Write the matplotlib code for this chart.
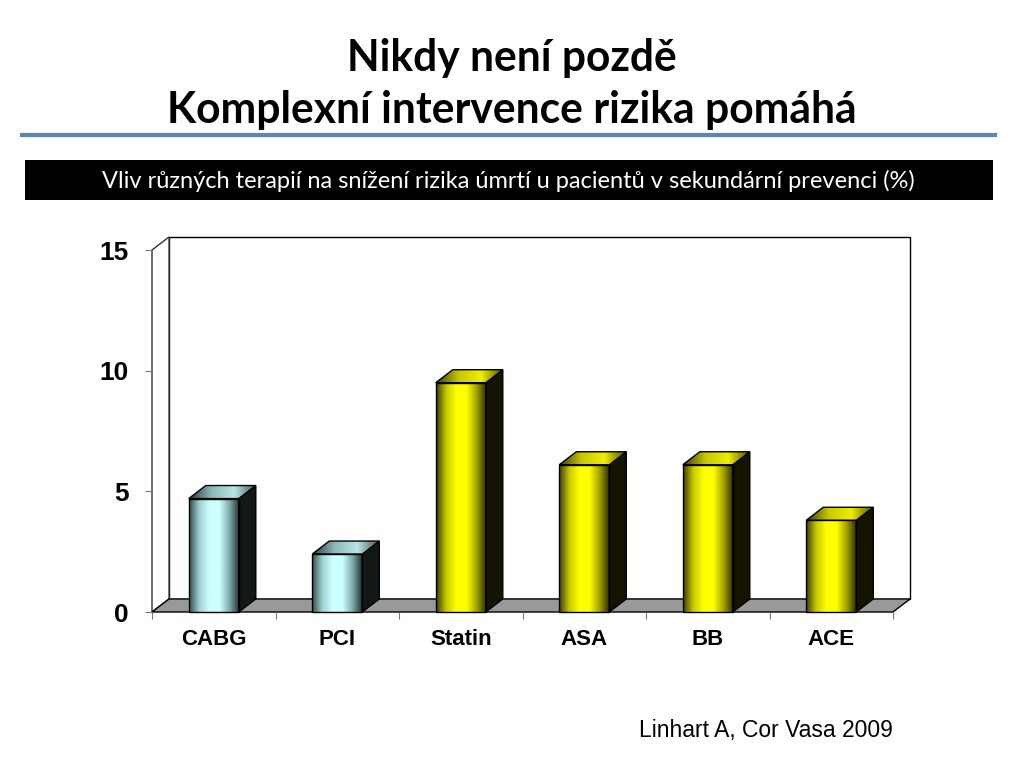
import numpy as np
import matplotlib
matplotlib.use("Agg")
import matplotlib.pyplot as plt
from matplotlib.patches import Polygon, Rectangle
from matplotlib.colors import LinearSegmentedColormap

categories = ['CABG', 'PCI', 'Statin', 'ASA', 'BB', 'ACE']
values = [4.7, 2.4, 9.5, 6.1, 6.1, 3.8]
kinds = ['cyan', 'cyan', 'yellow', 'yellow', 'yellow', 'yellow']
yticks = [0, 5, 10, 15]

title1 = 'Nikdy není pozdě'
title2 = 'Komplexní intervence rizika pomáhá'
subtitle = 'Vliv různých terapií na snížení rizika úmrtí u pacientů v sekundární prevenci (%)'
source = 'Linhart A, Cor Vasa 2009'

narrow = ['Lato', 'DejaVu Sans']
plt.rcParams['font.family'] = ['Liberation Sans', 'DejaVu Sans']

front = {
    'cyan': LinearSegmentedColormap.from_list('c', ['#35494b', '#9fcfd2', '#ccffff', '#ccffff', '#7fa8aa', '#1c2626']),
    'yellow': LinearSegmentedColormap.from_list('y', ['#3a3a00', '#c8c800', '#ffff00', '#ffff00', '#a0a000', '#262600']),
}
top = {
    'cyan': LinearSegmentedColormap.from_list('ct', ['#2a3a3b', '#8fb8ba', '#b8e4e6', '#3d5254']),
    'yellow': LinearSegmentedColormap.from_list('yt', ['#3a3a00', '#c8c800', '#eeee00', '#4a4a00']),
}
side = {'cyan': '#111816', 'yellow': '#141400'}

fig = plt.figure(figsize=(10.24, 7.68), dpi=100)
ax = fig.add_axes([152/1024, 1-612/768, (893-152)/1024, (612-250)/768])

n = len(categories)
dx, dy = 0.138, 0.54
ax.set_xlim(0, n)
ax.set_ylim(0, 15)

# walls and floor
ax.add_patch(Polygon([(dx, dy), (dx, 15+dy), (n+dx, 15+dy), (n+dx, dy)],
                     closed=True, fc='white', ec='black', lw=1.0, clip_on=False, zorder=0))
ax.add_patch(Polygon([(0, 0), (0, 15), (dx, 15+dy), (dx, dy)],
                     closed=True, fc='white', ec='#333333', lw=1.0, clip_on=False, zorder=0.5))
ax.add_patch(Polygon([(0, 0), (n, 0), (n+dx, dy), (dx, dy)],
                     closed=True, fc='#999999', ec='black', lw=1.0, clip_on=False, zorder=1))

grad = np.linspace(0, 1, 256).reshape(1, -1)
w = 0.405
for i, (v, k) in enumerate(zip(values, kinds)):
    x0 = i + 0.5 - w/2
    x1 = x0 + w
    ax.imshow(grad, extent=[x0, x1, 0, v], aspect='auto', cmap=front[k], zorder=3, clip_on=False)
    ax.add_patch(Rectangle((x0, 0), w, v, fill=False, ec='black', lw=1.0, zorder=4, clip_on=False))
    ax.add_patch(Polygon([(x1, 0), (x1+dx, dy), (x1+dx, v+dy), (x1, v)],
                         closed=True, fc=side[k], ec='black', lw=1.0, zorder=3, clip_on=False))
    tp = Polygon([(x0, v), (x1, v), (x1+dx, v+dy), (x0+dx, v+dy)],
                 closed=True, fc='none', ec='black', lw=1.0, zorder=4, clip_on=False)
    ax.add_patch(tp)
    im = ax.imshow(grad, extent=[x0, x1+dx, v, v+dy], aspect='auto', cmap=top[k], zorder=3, clip_on=True)
    im.set_clip_path(tp)

ax.set_xlim(0, n)
ax.set_ylim(0, 15)

for s in ax.spines.values():
    s.set_visible(False)
ax.set_yticks(yticks)
ax.set_yticklabels([str(t) for t in yticks], fontsize=19, fontweight='bold')
ax.tick_params(axis='y', length=5, color='#777777', pad=12)
ax.set_xticks(range(n+1))
ax.set_xticklabels([])
ax.set_xticks(np.arange(n) + 0.5, minor=True)
ax.set_xticklabels(categories, minor=True, fontsize=16, fontweight='bold')
ax.tick_params(axis='x', which='major', length=5, color='#777777')
ax.tick_params(axis='x', which='minor', length=0, pad=12)
ax.patch.set_visible(False)

t1 = fig.text(0.5, 1-58/768, title1, ha='center', va='center', fontsize=31, fontweight='bold', family=narrow)
t2 = fig.text(0.5, 1-110/768, title2, ha='center', va='center', fontsize=31, fontweight='bold', family=narrow)
fig.add_artist(plt.Line2D([22/1024, 995/1024], [1-135/768, 1-135/768], color='#5a86bf', lw=3))
fig.add_artist(Rectangle((25/1024, 1-200/768), (993-25)/1024, 40/768, transform=fig.transFigure,
                         fc='black', ec='none'))
t3 = fig.text(508/1024, 1-181/768, subtitle, ha='center', va='center', fontsize=16, color='white', family=narrow)
fig.text(893/1024, 1-731/768, source, ha='right', va='center', fontsize=16.5)

# fit the narrow slide texts to their widths in the reference
r = fig.canvas.get_renderer()
for t, target in [(t1, 330), (t2, 690), (t3, 820)]:
    wpx = t.get_window_extent(r).width
    t.set_fontsize(t.get_fontsize() * target / wpx)

fig.savefig('out.png', dpi=100)
